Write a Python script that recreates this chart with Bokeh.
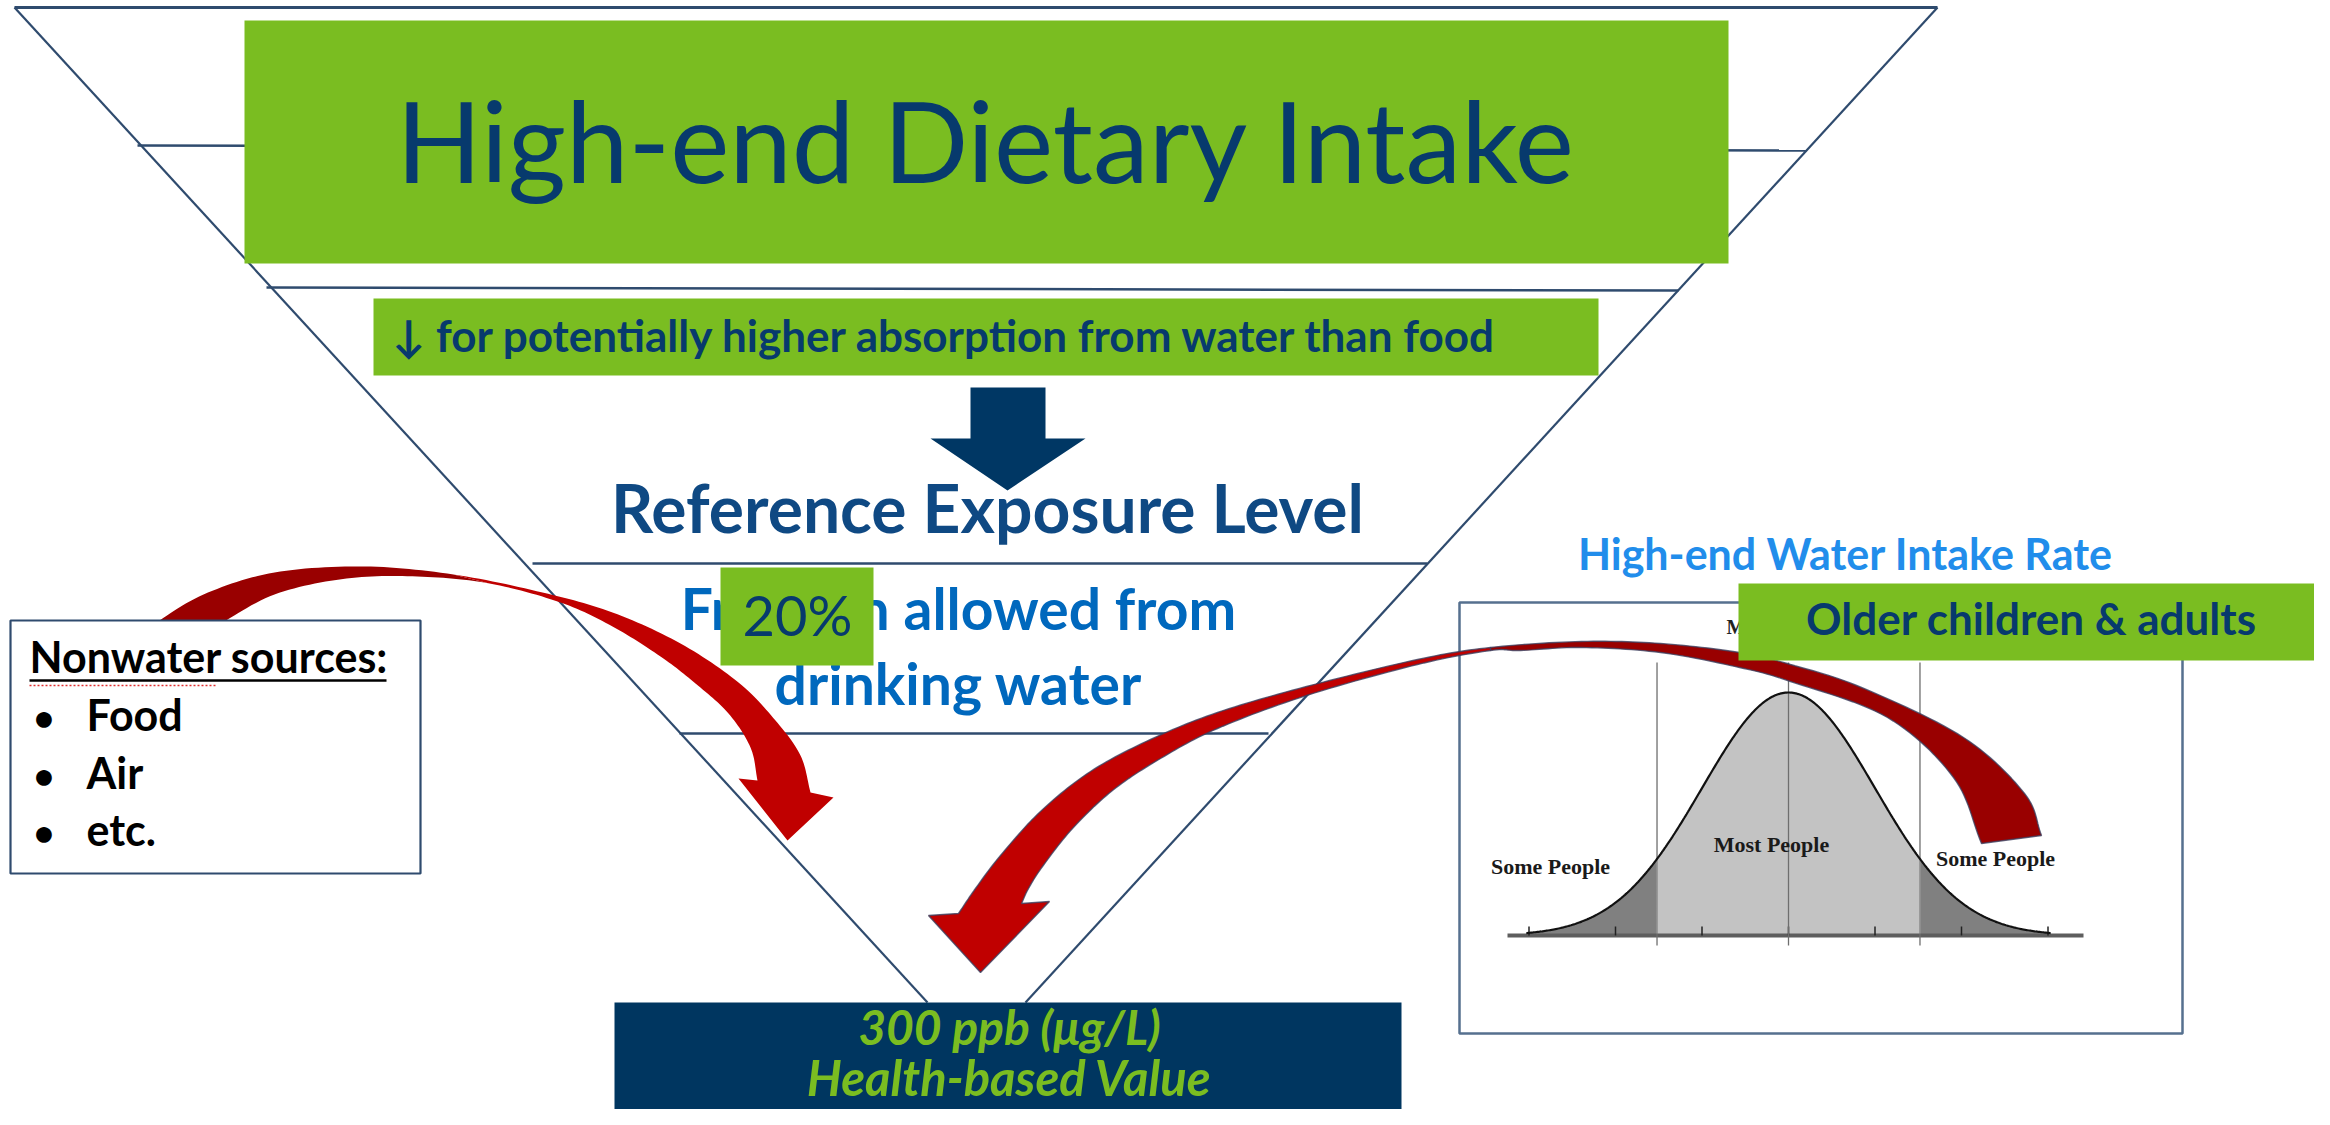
import numpy as np
from bokeh.plotting import figure
from bokeh.models import Range1d
from bokeh.core.properties import value
from bokeh.embed import file_html
from bokeh.resources import INLINE

# ---------------- content ----------------
TITLE = "High-end Dietary Intake"
SUBTITLE = "\u2193 for potentially higher absorption from water than food"
REF_LEVEL = "Reference Exposure Level"
FRACTION_LINES = ["Fraction allowed from", "drinking water"]
PERCENT = "20%"
NONWATER_TITLE = "Nonwater sources:"
NONWATER_ITEMS = ["Food", "Air", "etc."]
WATER_RATE = "High-end Water Intake Rate"
AGE_GROUP = "Older children & adults"
RESULT_LINES = ["300 ppb (\u03bcg/L)", "Health-based Value"]
DIST_LABELS = ["Some People", "Most People", "Some People"]

# bell curve illustration (pixel space)
BELL_CENTER = 1788
BELL_SIGMA = 86.5
BELL_HEIGHT = 243
BELL_BASE = 935
BELL_TICKS_SIGMA = [-3, -2, -1, 0, 1, 2, 3]
BELL_SPLIT_SIGMA = [-1.52, 1.52]

# ---------------- shape outlines (pixel space) ----------------
TRI_TOP = [(14, 7), (1937, 7)]
TRI_LEFT = [(14, 7), (927, 1002)]
TRI_RIGHT = [(1937, 7), (1025, 1002)]
LEVEL_LINES = [((137, 145), (1806, 150)), ((266, 287), (1678, 290)),
               ((532, 563), (1427, 563)), ((679, 733), (1268, 733))]

LEFT_OUTER = [(135, 634), (151, 625), (203, 594), (274, 572), (364, 566), (453, 574),
              (542, 592), (612, 612), (680, 643), (738, 682), (775, 720), (800, 755), (810, 792)]
LEFT_INNER = [(200, 634), (217, 625), (274, 594), (346, 578), (417, 576), (489, 583),
              (560, 602), (612, 626), (660, 656), (695, 683), (728, 713), (750, 747), (757, 780)]
LEFT_HEAD = [(833, 797), (787, 840), (738, 778)]

RIGHT_OUTER = [(2041, 835), (2024, 793), (1963, 737), (1861, 687), (1790, 664), (1739, 652),
               (1660, 643), (1581, 641), (1490, 647), (1417, 659), (1306, 686), (1217, 712),
               (1150, 739), (1090, 771), (1040, 811), (1000, 855), (975, 888), (958, 913)]
RIGHT_INNER = [(1981, 843), (1953, 777), (1887, 717), (1790, 681), (1739, 667), (1660, 652),
               (1581, 647), (1520, 650), (1490, 650), (1417, 664), (1306, 695), (1217, 728),
               (1160, 758), (1112, 790), (1072, 828), (1042, 866), (1028, 888), (1021, 903)]
RIGHT_HEAD = [(928, 915), (980, 972), (1049, 901)]

DOWN_ARROW = [(970, 387), (1045, 387), (1045, 438), (1085, 438), (1007, 490),
              (930, 438), (970, 438)]

GREEN = "#7ABD21"
NAVY = "#073A6D"
RED = "#C00000"
DARK_RED = "#990000"
LINE = "#2F4B6E"
FONT = value("Lato")
BASELINE_SHIFT = 0.39  # em correction so that the given y is the alphabetic baseline

W, H = 2314, 1109


def smooth(pts, n=14):
    P = np.array(pts, float)
    P = np.vstack([2 * P[0] - P[1], P, 2 * P[-1] - P[-2]])
    out = []
    for i in range(1, len(P) - 2):
        p0, p1, p2, p3 = P[i - 1], P[i], P[i + 1], P[i + 2]
        for t in np.linspace(0, 1, n, endpoint=False):
            t2, t3 = t * t, t * t * t
            out.append(0.5 * (2 * p1 + (-p0 + p2) * t + (2 * p0 - 5 * p1 + 4 * p2 - p3) * t2
                              + (-p0 + 3 * p1 - 3 * p2 + p3) * t3))
    out.append(P[-2])
    return np.array(out)


p = figure(width=W, height=H, x_range=Range1d(0, W), y_range=Range1d(H, 0),
           output_backend="svg", toolbar_location=None, x_axis_type=None, y_axis_type=None,
           min_border=0)
p.outline_line_color = None
p.background_fill_color = "white"
p.border_fill_color = "white"


def seg(a, b, color=LINE, width=2.2):
    p.line([a[0], b[0]], [a[1], b[1]], line_color=color, line_width=width)


def txt(x, y, s, size, color, style="bold", align="center", font=FONT):
    p.text(x=[x], y=[y - BASELINE_SHIFT * size], text=[s], text_font=font,
           text_font_size=f"{size}px", text_color=color,
           text_font_style=style, text_align=align, text_baseline="alphabetic")


# ---- inverted pyramid ----
seg(*TRI_TOP, width=3)
seg(*TRI_LEFT)
seg(*TRI_RIGHT)
for a, b in LEVEL_LINES:
    seg(a, b, width=2.5)

# ---- top green boxes ----
p.quad(left=244, right=1728, top=20, bottom=263, fill_color=GREEN, line_color=None)
txt(986, 183, TITLE, 112, NAVY, style="normal")
p.quad(left=373, right=1598, top=298, bottom=375, fill_color=GREEN, line_color=None)
txt(945, 352, SUBTITLE, 44, NAVY)

# ---- dark down arrow ----
p.patch([q[0] for q in DOWN_ARROW], [q[1] for q in DOWN_ARROW], fill_color="#003764",
        line_color=None)

txt(987, 533, REF_LEVEL, 66, "#0F4983")
txt(958, 630, FRACTION_LINES[0], 57, "#0068BD")
txt(958, 705, FRACTION_LINES[1], 57, "#0068BD")
p.quad(left=720, right=873, top=567, bottom=665, fill_color=GREEN, line_color=None)
txt(797, 636, PERCENT, 56, NAVY, style="normal")

# ---- distribution figure ----
p.quad(left=1459, right=2182, top=602, bottom=1033, fill_color="white", line_color="#56708F",
       line_width=2.5)
txt(1726, 634, "M", 20, "#222222", align="left", font=value("Liberation Serif"))
xs = np.linspace(BELL_CENTER - 3.03 * BELL_SIGMA, BELL_CENTER + 3.03 * BELL_SIGMA, 400)
ys = BELL_BASE - BELL_HEIGHT * np.exp(-0.5 * ((xs - BELL_CENTER) / BELL_SIGMA) ** 2)
lo = BELL_CENTER + BELL_SPLIT_SIGMA[0] * BELL_SIGMA
hi = BELL_CENTER + BELL_SPLIT_SIGMA[1] * BELL_SIGMA
for mask, col in [(xs <= lo, "#808080"), ((xs >= lo) & (xs <= hi), "#C3C3C3"), (xs >= hi, "#808080")]:
    p.varea(x=xs[mask], y1=ys[mask], y2=BELL_BASE, fill_color=col)
p.line([1507, 2083], [BELL_BASE, BELL_BASE], line_color="#5E5E5E", line_width=4)
for k in BELL_TICKS_SIGMA:
    xk = BELL_CENTER + k * BELL_SIGMA
    p.line([xk, xk], [BELL_BASE, BELL_BASE - 9], line_color="#222222", line_width=1.5)
for xv in [lo, BELL_CENTER, hi]:
    p.line([xv, xv], [662, BELL_BASE + 10], line_color="#6E6E6E", line_width=1.3)
p.line(xs, ys, line_color="#111111", line_width=2.2)
txt(1550, 875, DIST_LABELS[0], 22, "#1A1A1A", font=value("Liberation Serif"))
txt(1771, 853, DIST_LABELS[1], 22, "#1A1A1A", font=value("Liberation Serif"))
txt(1995, 867, DIST_LABELS[2], 22, "#1A1A1A", font=value("Liberation Serif"))


# ---- red curved arrows ----
def ribbon(outer, inner, head, split, outline=None):
    n = 14
    O = smooth(outer, n)
    I = smooth(inner, n)
    s = split * n + 1
    back_x = list(O[:s, 0]) + list(I[:s, 0][::-1])
    back_y = list(O[:s, 1]) + list(I[:s, 1][::-1])
    front_x = list(O[s - 1:, 0]) + [h[0] for h in head] + list(I[s - 1:, 0][::-1])
    front_y = list(O[s - 1:, 1]) + [h[1] for h in head] + list(I[s - 1:, 1][::-1])
    kw = dict(line_color=outline, line_width=1.4, line_alpha=0.8) if outline else dict(line_color=None)
    p.patch(back_x, back_y, fill_color=DARK_RED, **kw)
    p.patch(front_x, front_y, fill_color=RED, **kw)


ribbon(LEFT_OUTER, LEFT_INNER, LEFT_HEAD, 5)
ribbon(RIGHT_OUTER, RIGHT_INNER, RIGHT_HEAD, 8, outline="#3B3E5E")

# ---- nonwater box ----
p.quad(left=10, right=420, top=620, bottom=873, fill_color="white", line_color=LINE, line_width=2.2)
txt(29, 673, NONWATER_TITLE, 43, "black", align="left")
p.line([29, 386], [680, 680], line_color="black", line_width=2.5)
p.line([29, 217], [685, 685], line_color="#E03030", line_width=1.5, line_dash="2 2")
for i, item in enumerate(NONWATER_ITEMS):
    yb = 731 + i * 57.5
    txt(33, yb, "\u2022", 36, "black", align="left")
    txt(86, yb, item, 43, "black", align="left")

# ---- age group box ----
p.quad(left=1738, right=2322, top=583, bottom=660, fill_color=GREEN, line_color=None)
txt(2031, 635, AGE_GROUP, 44, NAVY)
txt(1845, 570, WATER_RATE, 43, "#218DEB")

# ---- result box ----
p.quad(left=614, right=1401, top=1002, bottom=1125, fill_color="#003660", line_color=None)
txt(1009, 1045, RESULT_LINES[0], 48, GREEN, style="bold italic")
txt(1009, 1096, RESULT_LINES[1], 49, GREEN, style="bold italic")

open("out.html", "w").write(file_html(p, INLINE))
